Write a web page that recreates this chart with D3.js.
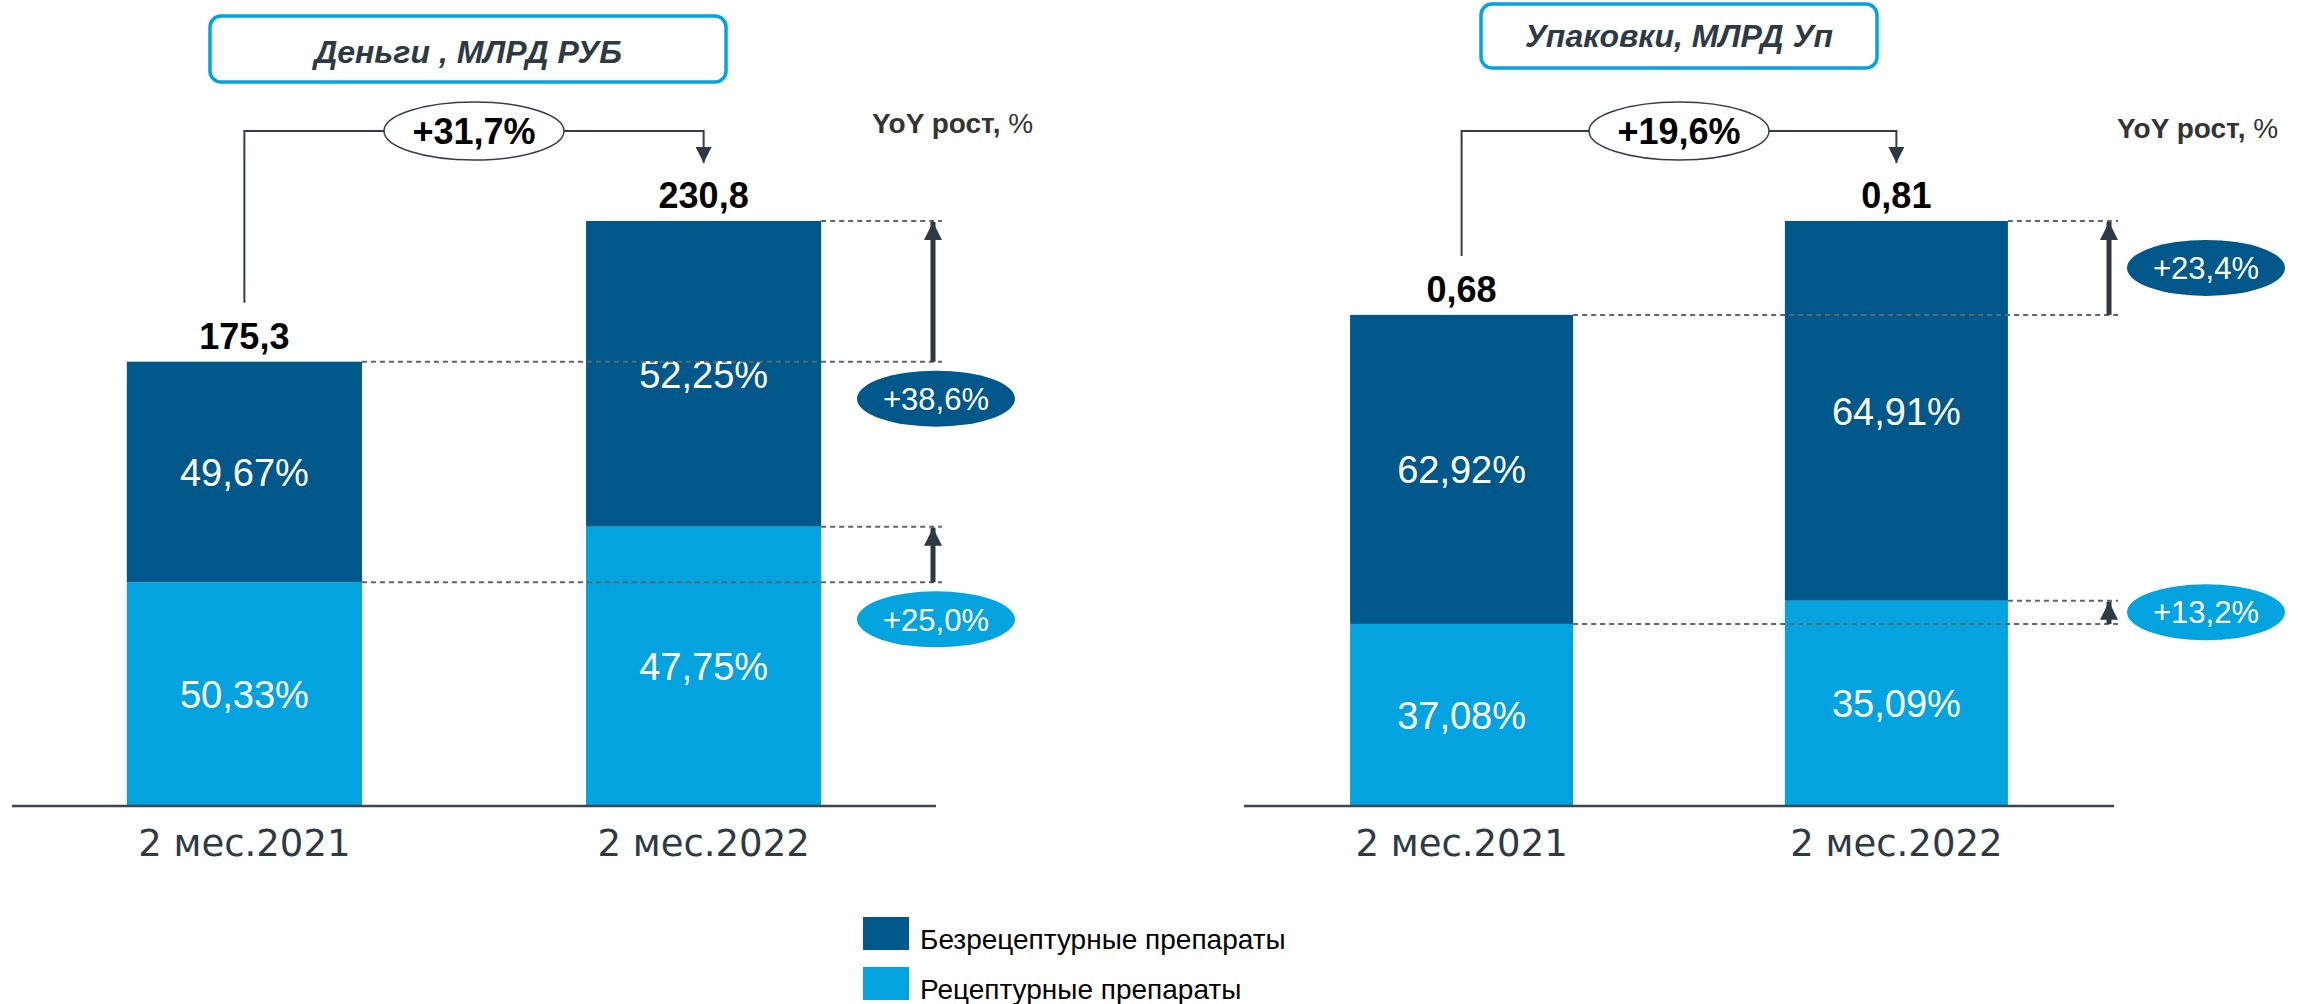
<!DOCTYPE html>
<html>
<head>
<meta charset="utf-8">
<script src="https://cdn.jsdelivr.net/npm/d3@7"></script>
<style>
  body { margin: 0; background: #fff; }
  svg { display: block; font-family: "Liberation Sans", Arial, sans-serif; }
</style>
</head>
<body>
<svg id="chart" width="2300" height="1004"></svg>
<script>
const categories = ["2 мес.2021", "2 мес.2022"];
const seriesNames = ["Безрецептурные препараты", "Рецептурные препараты"];

// Деньги, млрд руб
const moneyTotal = [175.3, 230.8];
const moneyOtcShare = [49.67, 52.25];
const moneyRxShare = [50.33, 47.75];
const moneyGrowth = { total: "+31,7%", otc: "+38,6%", rx: "+25,0%" };

// Упаковки, млрд уп
const packTotal = [0.68, 0.81];
const packOtcShare = [62.92, 64.91];
const packRxShare = [37.08, 35.09];
const packGrowth = { total: "+19,6%", otc: "+23,4%", rx: "+13,2%" };

const dark = "#00578a", light = "#03a3e0", ink = "#2d3a45";
const svg = d3.select("#chart");

const defs = svg.append("defs");
defs.append("marker").attr("id", "bigHead")
  .attr("viewBox", "0 0 10 10").attr("refX", 10).attr("refY", 5)
  .attr("markerWidth", 3.6).attr("markerHeight", 3.6).attr("markerUnits", "strokeWidth")
  .attr("orient", "auto")
  .append("path").attr("d", "M0,0 L10,5 L0,10 Z").attr("fill", ink);
defs.append("marker").attr("id", "smallHead")
  .attr("viewBox", "0 0 10 10").attr("refX", 10).attr("refY", 5)
  .attr("markerWidth", 8).attr("markerHeight", 8).attr("markerUnits", "strokeWidth")
  .attr("orient", "auto")
  .append("path").attr("d", "M0,0 L10,5 L0,10 Z").attr("fill", ink);

function fmt(v, digits) {
  return v.toFixed(digits).replace(".", ",");
}

function drawPanel(p) {
  const g = svg.append("g");
  const x = d3.scaleBand().domain(categories).range([p.x0, p.x1])
    .paddingInner(p.pi).paddingOuter(p.po);
  const y = d3.scaleLinear().domain([0, d3.max(p.total)]).range([806, 221]);

  const rows = categories.map((c, i) => {
    const rx = p.total[i] * p.rxShare[i] / 100;
    return { cat: c, total: p.total[i], rx, otcShare: p.otcShare[i], rxShare: p.rxShare[i] };
  });

  // title box
  g.append("rect").attr("x", p.box[0]).attr("y", p.box[1])
    .attr("width", p.box[2]).attr("height", p.box[3]).attr("rx", 11)
    .attr("fill", "#fff").attr("stroke", light).attr("stroke-width", 3.5);
  g.append("text").attr("x", p.box[0] + p.box[2] / 2).attr("y", p.titleY)
    .attr("text-anchor", "middle").attr("font-size", 32).attr("font-weight", "bold")
    .attr("font-style", "italic").attr("fill", ink).text(p.title);

  // stacked bars
  const bars = g.selectAll("g.bar").data(rows).join("g");
  bars.append("rect").attr("x", d => x(d.cat)).attr("width", x.bandwidth())
    .attr("y", d => y(d.rx)).attr("height", d => y(0) - y(d.rx)).attr("fill", light);
  bars.append("rect").attr("x", d => x(d.cat)).attr("width", x.bandwidth())
    .attr("y", d => y(d.total)).attr("height", d => y(d.rx) - y(d.total)).attr("fill", dark);

  bars.append("text").attr("x", d => x(d.cat) + x.bandwidth() / 2)
    .attr("y", d => (y(d.total) + y(d.rx)) / 2).attr("dy", "0.36em")
    .attr("text-anchor", "middle").attr("fill", "#fff").attr("font-size", 38)
    .text(d => fmt(d.otcShare, 2) + "%");
  bars.append("text").attr("x", d => x(d.cat) + x.bandwidth() / 2)
    .attr("y", d => (y(d.rx) + y(0)) / 2).attr("dy", "0.36em")
    .attr("text-anchor", "middle").attr("fill", "#fff").attr("font-size", 38)
    .text(d => fmt(d.rxShare, 2) + "%");
  bars.append("text").attr("x", d => x(d.cat) + x.bandwidth() / 2)
    .attr("y", d => y(d.total) - 13)
    .attr("text-anchor", "middle").attr("fill", "#000").attr("font-size", 36)
    .attr("font-weight", "bold").text(d => fmt(d.total, p.digits));

  // baseline + category labels
  g.append("line").attr("x1", p.x0).attr("x2", p.x1).attr("y1", 806).attr("y2", 806)
    .attr("stroke", "#3a4650").attr("stroke-width", 2.5);
  g.selectAll("text.cat").data(categories).join("text")
    .attr("x", d => x(d) + x.bandwidth() / 2).attr("y", 856)
    .attr("text-anchor", "middle").attr("font-family", "DejaVu Sans")
    .attr("font-size", 37).attr("fill", ink).text(d => d);

  // dotted guides
  const r0 = x(categories[0]) + x.bandwidth(), r1 = x(categories[1]) + x.bandwidth();
  const guides = [
    [r0, y(rows[0].total)], [r1, y(rows[1].total)],
    [r0, y(rows[0].rx)], [r1, y(rows[1].rx)]
  ];
  g.selectAll("line.guide").data(guides).join("line")
    .attr("x1", d => d[0]).attr("x2", p.dashEnd).attr("y1", d => d[1]).attr("y2", d => d[1])
    .attr("stroke", "#5d6670").attr("stroke-width", 2).attr("stroke-dasharray", "5,4");

  // growth arrows
  [[rows[0].total, rows[1].total], [rows[0].rx, rows[1].rx]].forEach(([a, b]) => {
    g.append("line").attr("x1", p.arrowX).attr("x2", p.arrowX)
      .attr("y1", y(a)).attr("y2", y(b) + 1)
      .attr("stroke", ink).attr("stroke-width", 5).attr("marker-end", "url(#bigHead)");
  });

  // growth badges
  const badges = [
    { text: p.growth.otc, fill: dark, cy: p.side ? (y(rows[0].total) + y(rows[1].total)) / 2 : y(rows[0].total) + 37 },
    { text: p.growth.rx, fill: light, cy: p.side ? (y(rows[0].rx) + y(rows[1].rx)) / 2 : y(rows[0].rx) + 37 }
  ];
  badges.forEach(b => {
    g.append("ellipse").attr("cx", p.badgeX).attr("cy", b.cy).attr("rx", 79).attr("ry", 28)
      .attr("fill", b.fill);
    g.append("text").attr("x", p.badgeX).attr("y", b.cy).attr("dy", "0.36em")
      .attr("text-anchor", "middle").attr("fill", "#fff").attr("font-size", 31).text(b.text);
  });

  // total growth bracket
  const c0 = x(categories[0]) + x.bandwidth() / 2, c1 = x(categories[1]) + x.bandwidth() / 2;
  const mid = (c0 + c1) / 2, by = 131;
  g.append("path")
    .attr("d", `M${c0},${y(rows[0].total) - 59} V${by} H${mid - 90}`)
    .attr("fill", "none").attr("stroke", "#333e48").attr("stroke-width", 2);
  g.append("path")
    .attr("d", `M${mid + 90},${by} H${c1} V${y(rows[1].total) - 58}`)
    .attr("fill", "none").attr("stroke", "#333e48").attr("stroke-width", 2)
    .attr("marker-end", "url(#smallHead)");
  g.append("ellipse").attr("cx", mid).attr("cy", by).attr("rx", 90).attr("ry", 29)
    .attr("fill", "#fff").attr("stroke", "#333e48").attr("stroke-width", 1.5);
  g.append("text").attr("x", mid).attr("y", by).attr("dy", "0.36em")
    .attr("text-anchor", "middle").attr("font-size", 36).attr("font-weight", "bold")
    .attr("fill", "#000").text(p.growth.total);

  // YoY caption
  const yoy = g.append("text").attr("x", p.yoyX).attr("y", p.yoyY)
    .attr("font-size", 28).attr("fill", "#333");
  yoy.append("tspan").attr("font-weight", "bold").text("YoY рост,");
  yoy.append("tspan").text(" %");
}

drawPanel({
  title: "Деньги , МЛРД РУБ", total: moneyTotal, otcShare: moneyOtcShare, rxShare: moneyRxShare,
  growth: moneyGrowth, digits: 1,
  x0: 12, x1: 936, pi: 0.488, po: 0.25,
  box: [210, 16, 516, 66], titleY: 63,
  arrowX: 933, dashEnd: 942, badgeX: 936, side: false,
  yoyX: 872, yoyY: 133
});

drawPanel({
  title: "Упаковки, МЛРД Уп", total: packTotal, otcShare: packOtcShare, rxShare: packRxShare,
  growth: packGrowth, digits: 2,
  x0: 1244, x1: 2114, pi: 0.487, po: 0.244,
  box: [1481, 4, 396, 64], titleY: 47,
  arrowX: 2109, dashEnd: 2118, badgeX: 2206, side: true,
  yoyX: 2117, yoyY: 138
});

// legend
const legend = svg.append("g").selectAll("g").data(seriesNames).join("g")
  .attr("transform", (d, i) => `translate(863, ${917 + i * 50})`);
legend.append("rect").attr("width", 46).attr("height", 33).attr("fill", (d, i) => i ? light : dark);
legend.append("text").attr("x", 57).attr("y", 32).attr("font-size", 28).attr("fill", "#000").text(d => d);
</script>
</body>
</html>
